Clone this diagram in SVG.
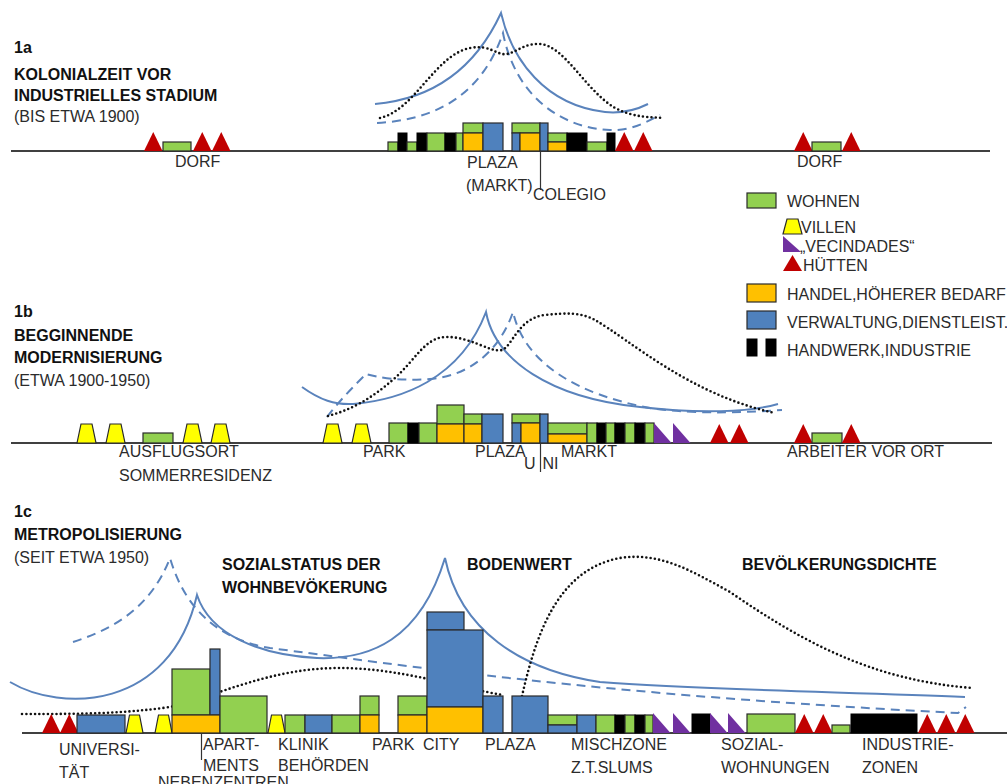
<svg xmlns="http://www.w3.org/2000/svg" xmlns:xlink="http://www.w3.org/1999/xlink" width="1007" height="784" viewBox="0 0 1007 784">
  <style>
    .g { fill: #92D050; stroke: #2a2a2a; stroke-width: 1.2; }
    .o { fill: #FFC000; stroke: #2a2a2a; stroke-width: 1.2; }
    .b { fill: #4F81BD; stroke: #2a2a2a; stroke-width: 1.2; }
    .k { fill: #000000; stroke: #000000; stroke-width: 1; }
    .y { fill: #FFFF00; stroke: #2a2a2a; stroke-width: 1.2; }
    .p { fill: #7030A0; }
    .r { fill: #C00000; }
    .base { stroke: #000; stroke-width: 1.5; }
    .tick { stroke: #333; stroke-width: 1.2; }
    .bw { fill: none; stroke: #5A83BC; stroke-width: 2; }
    .bwd { fill: none; stroke: #5A83BC; stroke-width: 2; stroke-dasharray: 9 6; }
    .pd { fill: none; stroke: #111; stroke-width: 2.6; stroke-dasharray: 0 4.3; stroke-linecap: round; }
    text { font-family: "Liberation Sans", Arial, sans-serif; font-size: 16px; fill: #2b2b2b; }
    text.h { font-weight: bold; fill: #111; }
  </style>
  <defs>
    <!-- shared glyph shapes, anchored at bottom-left -->
    <path id="tri" class="r" d="M0,0 L9.25,-19 L18.5,0 Z"/>
    <path id="trap" class="y" d="M0,0 L4,-19 L15,-19 L19,0 Z"/>
    <path id="trapS" class="y" d="M0,0 L3.5,-18 L13.5,-18 L17,0 Z"/>
    <path id="wedge" class="p" d="M0,0 L0,-20 L17.5,0 Z"/>
  </defs>
  <rect width="1007" height="784" fill="#ffffff"/>

  <!-- ===== 1a ===== -->
  <g id="title-1a">
    <text class="h" x="14" y="53">1a</text>
    <text class="h" x="14" y="80">KOLONIALZEIT VOR</text>
    <text class="h" x="14" y="101">INDUSTRIELLES STADIUM</text>
    <text x="14" y="122">(BIS ETWA 1900)</text>
  </g>
  <g id="curves-1a">
    <path class="bw" d="M375,104 C420,100 470,80 501,13 C512,60 545,105 605,112 C625,114 640,108 648,104"/>
    <path class="bwd" d="M377,123 C430,120 480,100 503,33 C515,95 560,128 610,130 C630,131 645,123 660,115"/>
    <path class="pd" d="M380,118 C415,110 435,55 470,48 C490,44 497,56 507,54 C517,52 525,43 540,44 C565,46 585,90 615,108 C635,118 650,117 664,118"/>
  </g>
  <line class="base" x1="11" y1="151" x2="990" y2="151"/>
  <g id="dorf-left-1a">
    <use xlink:href="#tri" x="144" y="151"/>
    <rect class="g" x="163" y="142" width="28" height="9"/>
    <use xlink:href="#tri" x="193" y="151"/>
    <use xlink:href="#tri" x="212" y="151"/>
    <text x="175" y="167">DORF</text>
  </g>
  <g id="plaza-1a">
    <rect class="g" x="388" y="142" width="10" height="9"/>
    <rect class="k" x="398" y="133" width="9" height="18"/>
    <rect class="g" x="407" y="142" width="10" height="9"/>
    <rect class="k" x="417" y="133" width="10" height="18"/>
    <rect class="g" x="427" y="133" width="18" height="18"/>
    <rect class="k" x="445" y="133" width="11" height="18"/>
    <rect class="g" x="456" y="133" width="7" height="18"/>
    <rect class="g" x="463" y="123" width="20" height="10"/>
    <rect class="o" x="463" y="133" width="20" height="18"/>
    <rect class="b" x="483" y="123" width="20" height="28"/>
    <rect class="g" x="512" y="123" width="28" height="10"/>
    <rect class="b" x="512" y="133" width="8" height="18"/>
    <rect class="o" x="520" y="133" width="20" height="18"/>
    <rect class="b" x="540" y="123" width="8" height="28"/>
    <rect class="g" x="548" y="133" width="19" height="9"/>
    <rect class="o" x="548" y="142" width="19" height="9"/>
    <rect class="k" x="567" y="133" width="20" height="18"/>
    <rect class="g" x="587" y="142" width="20" height="9"/>
    <rect class="k" x="607" y="133" width="8" height="18"/>
    <use xlink:href="#tri" x="615" y="151"/>
    <use xlink:href="#tri" x="634" y="151"/>
    <line class="tick" x1="540.5" y1="151" x2="540.5" y2="190"/>
    <text x="467" y="168">PLAZA</text>
    <text x="466" y="191">(MARKT)</text>
    <text x="533" y="200">COLEGIO</text>
  </g>
  <g id="dorf-right-1a">
    <use xlink:href="#tri" x="794" y="151"/>
    <rect class="g" x="812" y="142" width="29" height="9"/>
    <use xlink:href="#tri" x="842" y="151"/>
    <text x="797" y="167">DORF</text>
  </g>

  <!-- ===== legend ===== -->
  <g id="legend">
    <rect class="g" x="747" y="193" width="29" height="15"/>
    <text x="787" y="207">WOHNEN</text>
    <path class="y" d="M783,234 L787,219 L798,219 L802,234 Z"/>
    <text x="801" y="233">VILLEN</text>
    <path class="p" d="M783,236 L783,252 L801,252 Z"/>
    <text x="800" y="252">„VECINDADES“</text>
    <path class="r" d="M783,271 L792.5,255 L802,271 Z"/>
    <text x="803" y="271">HÜTTEN</text>
    <rect class="o" x="747" y="284" width="29" height="18"/>
    <text x="787" y="300">HANDEL,HÖHERER BEDARF</text>
    <rect class="b" x="747" y="311" width="29" height="18"/>
    <text x="787" y="328">VERWALTUNG,DIENSTLEIST.</text>
    <rect class="k" x="747" y="339" width="10" height="17"/>
    <rect class="k" x="766" y="339" width="10" height="17"/>
    <text x="787" y="356">HANDWERK,INDUSTRIE</text>
  </g>

  <!-- ===== 1b ===== -->
  <g id="title-1b">
    <text class="h" x="14" y="317">1b</text>
    <text class="h" x="14" y="341">BEGGINNENDE</text>
    <text class="h" x="14" y="363">MODERNISIERUNG</text>
    <text x="14" y="386">(ETWA 1900-1950)</text>
  </g>
  <g id="curves-1b">
    <path class="bw" d="M302,387 C320,400 335,405 353,404 C400,400 460,380 486,312 C495,360 550,398 640,407 C700,414 750,412 778,404"/>
    <path class="bwd" d="M327,417 C340,400 355,385 366,374 C380,378 400,381 430,379 C470,376 500,350 513,312 C525,365 580,395 650,408 C700,415 750,412 782,410"/>
    <path class="pd" d="M328,416 C350,410 370,400 395,378 C415,360 425,338 445,337 C470,336 490,353 502,350 C512,347 518,318 545,315 C565,313 580,312 595,320 C630,340 690,395 775,413"/>
  </g>
  <line class="base" x1="11" y1="443" x2="992" y2="443"/>
  <g id="ausflugsort-1b">
    <use xlink:href="#trap" x="77" y="443"/>
    <use xlink:href="#trap" x="106" y="443"/>
    <rect class="g" x="143" y="433" width="30" height="10"/>
    <use xlink:href="#trap" x="183" y="443"/>
    <use xlink:href="#trap" x="211" y="443"/>
    <text x="119" y="457">AUSFLUGSORT</text>
    <text x="119" y="481">SOMMERRESIDENZ</text>
  </g>
  <g id="zentrum-1b">
    <use xlink:href="#trap" x="323" y="443"/>
    <use xlink:href="#trap" x="352" y="443"/>
    <rect class="g" x="389" y="423" width="19" height="20"/>
    <rect class="k" x="408" y="423" width="11" height="20"/>
    <rect class="g" x="419" y="423" width="18" height="20"/>
    <rect class="g" x="437" y="405" width="27" height="19"/>
    <rect class="o" x="437" y="424" width="27" height="19"/>
    <rect class="g" x="464" y="414" width="18" height="10"/>
    <rect class="o" x="464" y="424" width="18" height="19"/>
    <rect class="b" x="482" y="414" width="21" height="29"/>
    <rect class="g" x="512" y="414" width="28" height="9"/>
    <rect class="b" x="512" y="423" width="9" height="20"/>
    <rect class="o" x="521" y="423" width="19" height="20"/>
    <rect class="b" x="540" y="414" width="8" height="29"/>
    <rect class="g" x="548" y="423" width="39" height="11"/>
    <rect class="o" x="548" y="434" width="39" height="9"/>
    <rect class="g" x="587" y="423" width="10" height="20"/>
    <rect class="k" x="597" y="423" width="9" height="20"/>
    <rect class="g" x="606" y="423" width="9" height="20"/>
    <rect class="k" x="615" y="423" width="10" height="20"/>
    <rect class="g" x="625" y="423" width="10" height="20"/>
    <rect class="k" x="635" y="423" width="10" height="20"/>
    <rect class="g" x="645" y="423" width="9" height="20"/>
    <use xlink:href="#wedge" x="654" y="443"/>
    <use xlink:href="#wedge" x="673" y="443"/>
    <use xlink:href="#tri" x="710" y="443"/>
    <use xlink:href="#tri" x="730" y="443"/>
    <line class="tick" x1="540.5" y1="443" x2="540.5" y2="472"/>
    <text x="475" y="457">PLAZA</text>
    <text x="363" y="457">PARK</text>
    <text x="524" y="469">U<tspan dx="7">NI</tspan></text>
    <text x="561" y="457">MARKT</text>
  </g>
  <g id="arbeiter-1b">
    <use xlink:href="#tri" x="794" y="443"/>
    <rect class="g" x="812" y="433" width="30" height="10"/>
    <use xlink:href="#tri" x="842" y="443"/>
    <text x="787" y="457">ARBEITER VOR ORT</text>
  </g>

  <!-- ===== 1c ===== -->
  <g id="title-1c">
    <text class="h" x="14" y="517">1c</text>
    <text class="h" x="14" y="540">METROPOLISIERUNG</text>
    <text x="14" y="563">(SEIT ETWA 1950)</text>
  </g>
  <g id="curve-labels-1c">
    <text class="h" x="222" y="570">SOZIALSTATUS DER</text>
    <text class="h" x="222" y="593">WOHNBEVÖKERUNG</text>
    <text class="h" x="467" y="570">BODENWERT</text>
    <text class="h" x="742" y="570">BEVÖLKERUNGSDICHTE</text>
  </g>
  <g id="curves-1c">
    <path class="bw" d="M10,682 C60,712 170,712 197,595 C210,635 260,655 317,658 C370,660 420,640 445,558 C460,630 520,670 600,682 C700,690 850,692 965,697"/>
    <path class="bwd" d="M73,642 C110,630 150,610 170,558 C185,610 220,640 270,648 C400,665 600,695 958,713 L966,707"/>
    <path class="pd" d="M22,714 C80,714 120,714 170,707 C220,695 270,668 340,668 C400,668 460,688 503,695"/>
    <path class="pd" d="M522,696 C535,640 555,570 620,558 C660,552 690,570 730,592 C800,640 870,680 972,688"/>
  </g>
  <line class="base" x1="22" y1="733" x2="1007" y2="733"/>
  <g id="universitaet-1c">
    <use xlink:href="#tri" x="42" y="733"/>
    <use xlink:href="#tri" x="60" y="733"/>
    <rect class="b" x="77" y="715" width="48" height="18"/>
    <text x="59" y="755">UNIVERSI-</text>
    <text x="59" y="778">TÄT</text>
  </g>
  <g id="nebenzentren-1c">
    <use xlink:href="#trapS" x="126" y="733"/>
    <use xlink:href="#trapS" x="155" y="733"/>
    <rect class="g" x="172" y="669" width="38" height="46"/>
    <rect class="b" x="210" y="649" width="10" height="66"/>
    <rect class="o" x="172" y="715" width="48" height="18"/>
    <rect class="g" x="220" y="696" width="47" height="37"/>
    <line class="tick" x1="201.5" y1="733" x2="201.5" y2="760"/>
    <text x="203" y="750">APART-</text>
    <text x="203" y="771">MENTS</text>
    <text x="158" y="788">NEBENZENTREN</text>
  </g>
  <g id="klinik-1c">
    <use xlink:href="#trapS" x="268" y="733"/>
    <rect class="g" x="285" y="715" width="20" height="18"/>
    <rect class="b" x="305" y="715" width="27" height="18"/>
    <rect class="g" x="332" y="715" width="28" height="18"/>
    <rect class="g" x="360" y="696" width="19" height="19"/>
    <rect class="o" x="360" y="715" width="19" height="18"/>
    <text x="278" y="750">KLINIK</text>
    <text x="278" y="771">BEHÖRDEN</text>
  </g>
  <g id="city-1c">
    <rect class="g" x="398" y="696" width="29" height="19"/>
    <rect class="o" x="398" y="715" width="29" height="18"/>
    <rect class="b" x="427" y="612" width="37" height="18"/>
    <rect class="b" x="427" y="630" width="56" height="77"/>
    <rect class="o" x="427" y="707" width="56" height="26"/>
    <rect class="b" x="483" y="696" width="20" height="37"/>
    <text x="372" y="750">PARK</text>
    <text x="423" y="750">CITY</text>
  </g>
  <g id="plaza-1c">
    <rect class="b" x="512" y="696" width="36" height="37"/>
    <text x="485" y="750">PLAZA</text>
  </g>
  <g id="mischzone-1c">
    <rect class="g" x="548" y="715" width="29" height="10"/>
    <rect class="b" x="548" y="725" width="29" height="8"/>
    <rect class="b" x="577" y="715" width="19" height="18"/>
    <rect class="g" x="596" y="715" width="19" height="18"/>
    <rect class="k" x="615" y="715" width="10" height="18"/>
    <rect class="g" x="625" y="715" width="10" height="18"/>
    <rect class="k" x="635" y="715" width="10" height="18"/>
    <rect class="g" x="645" y="715" width="8" height="18"/>
    <use xlink:href="#wedge" x="653" y="733"/>
    <use xlink:href="#wedge" x="673" y="733"/>
    <rect class="k" x="692" y="714" width="18" height="19"/>
    <use xlink:href="#wedge" x="710" y="733"/>
    <use xlink:href="#wedge" x="728" y="733"/>
    <text x="571" y="750">MISCHZONE</text>
    <text x="571" y="773">Z.T.SLUMS</text>
  </g>
  <g id="sozialwohnungen-1c">
    <rect class="g" x="747" y="714" width="48" height="19"/>
    <use xlink:href="#tri" x="795" y="733"/>
    <use xlink:href="#tri" x="814" y="733"/>
    <text x="721" y="750">SOZIAL-</text>
    <text x="721" y="773">WOHNUNGEN</text>
  </g>
  <g id="industriezonen-1c">
    <rect class="g" x="832" y="725" width="18" height="8"/>
    <rect class="k" x="851" y="714" width="66" height="19"/>
    <use xlink:href="#tri" x="918" y="733"/>
    <use xlink:href="#tri" x="937" y="733"/>
    <use xlink:href="#tri" x="956" y="733"/>
    <text x="862" y="750">INDUSTRIE-</text>
    <text x="862" y="773">ZONEN</text>
  </g>
</svg>
